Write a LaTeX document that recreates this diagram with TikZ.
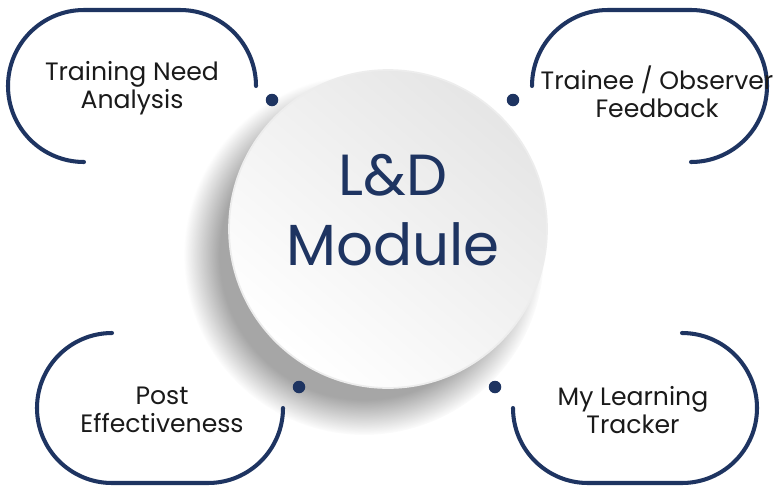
\documentclass[tikz,border=0pt]{standalone}
\usepackage{fontspec}
\setmainfont{Poppins}
\usepackage{xcolor}
\usepackage{tikz}
\usetikzlibrary{
    positioning,
    fadings
}
\definecolor{ldnavy}{HTML}{1E3461}
\definecolor{ldtext}{HTML}{1A1A1A}
\tikzset{
    % Open rounded loop around an item
    ldloop/.style={
        draw=ldnavy,
        line width=2.3pt,
        line cap=round
    },
    % Small bullet beside the disc
    lddot/.style={
        circle,
        fill=ldnavy,
        inner sep=0pt,
        minimum size=0.25cm
    },
    % Item label
    lditem/.style={
        font=\fontsize{14.3}{16}\selectfont,
        text=ldtext,
        align=center,
        inner sep=0pt
    },
    % Central disc
    lddisc/.style={
        circle,
        draw=black!7,
        line width=1pt,
        top color=black!10,
        bottom color=white,
        shading angle=-40,
        minimum size=6.36cm
    },
    % Title on the disc
    ldtitle/.style={
        text=ldnavy,
        font=\fontsize{33}{40}\selectfont,
        align=center,
        inner sep=0pt
    }
}

\begin{document}
\begin{tikzpicture}[x=0.02cm, y=0.02cm]

    % Page frame
    \fill[white] (0,0) rectangle (777,485);
    \useasboundingbox (0,0) rectangle (777,485);

    % Soft shadow under the disc
    \fill[black, opacity=0.35, path fading=circle with fuzzy edge 20 percent] (364,230) circle (180);

    % Central disc
    \node[lddisc] (module) at (388,256) {};
    \node[ldtitle] (title) at (393,275) {L\&D\\Module};

    % Bullets
    \node[lddot] (dotTL) at (272,385) {};
    \node[lddot] (dotTR) at (513,385) {};
    \node[lddot] (dotBL) at (299,98) {};
    \node[lddot] (dotBR) at (495,98) {};

    % Loops
    \draw[ldloop] (256,399) arc[start angle=0, end angle=90, radius=76] -- (84,475) arc[start angle=90, end angle=270, radius=76];
    \draw[ldloop] (532,399) arc[start angle=180, end angle=90, radius=76] -- (691,475) arc[start angle=90, end angle=-90, radius=76];
    \draw[ldloop] (112,152) arc[start angle=90, end angle=270, radius=75] -- (208,2) arc[start angle=270, end angle=360, radius=75];
    \draw[ldloop] (513,77) arc[start angle=180, end angle=270, radius=75] -- (682,2) arc[start angle=-90, end angle=90, radius=75];

    % Item labels
    \node[lditem] (tna) at (132,397) {Training Need\\Analysis};
    \node[lditem] (feedback) at (657,393) {Trainee / Observer\\Feedback};
    \node[lditem] (post) at (162,75) {Post\\Effectiveness};
    \node[lditem] (tracker) at (633,75) {My Learning\\Tracker};

\end{tikzpicture}
\end{document}
